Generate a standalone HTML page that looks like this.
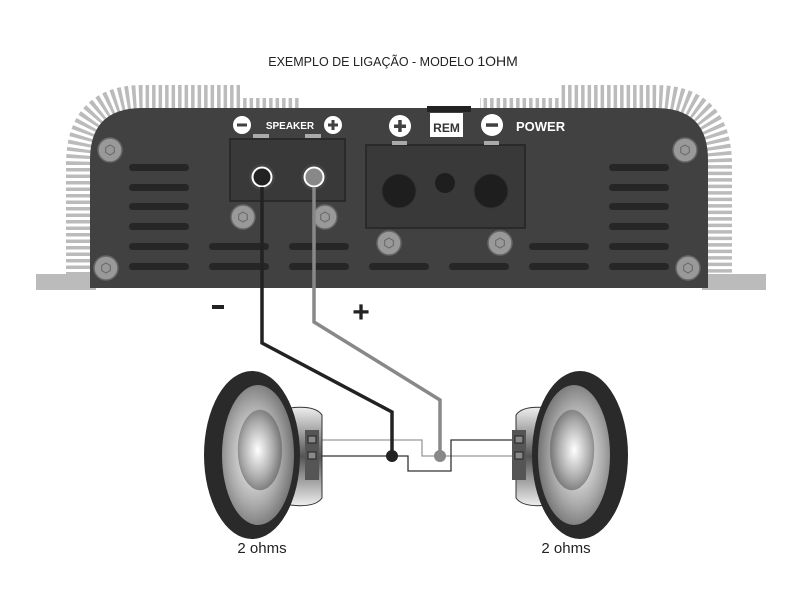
<!DOCTYPE html>
<html><head><meta charset="utf-8"><style>
body{margin:0;background:#fff;width:800px;height:600px;overflow:hidden}
text{font-family:"Liberation Sans",sans-serif}
</style></head><body>
<svg width="800" height="600" viewBox="0 0 800 600" xmlns="http://www.w3.org/2000/svg">
<defs>
<radialGradient id="cone" cx="0.45" cy="0.5" r="0.6"><stop offset="0" stop-color="#fff"/><stop offset="0.6" stop-color="#aaa"/><stop offset="1" stop-color="#666"/></radialGradient>
<radialGradient id="cone2" cx="0.55" cy="0.5" r="0.6"><stop offset="0" stop-color="#fff"/><stop offset="0.6" stop-color="#aaa"/><stop offset="1" stop-color="#666"/></radialGradient>
<linearGradient id="bask" x1="0" y1="0" x2="0" y2="1"><stop offset="0" stop-color="#eee"/><stop offset="0.5" stop-color="#555"/><stop offset="1" stop-color="#eee"/></linearGradient>
<g id="screw"><circle r="12" fill="#999" stroke="#666" stroke-width="1.5"/><polygon points="0,-5 4.3,-2.5 4.3,2.5 0,5 -4.3,2.5 -4.3,-2.5" fill="none" stroke="#666" stroke-width="1"/></g>
</defs>
<text x="393" y="66" font-size="12.5" text-anchor="middle" fill="#222">EXEMPLO DE LIGAÇÃO - MODELO <tspan font-size="14">1OHM</tspan></text>
<!-- fins -->
<path d="M78,282 V165 Q78,97 143,97 H655 Q720,97 720,165 V282" fill="none" stroke="#bbb" stroke-width="24" stroke-dasharray="3.5 3"/>
<rect x="36" y="274" width="60" height="16" fill="#bbb"/>
<rect x="702" y="274" width="64" height="16" fill="#bbb"/>
<rect x="300" y="80" width="180" height="28" fill="#fff"/>
<rect x="240" y="80" width="60" height="18" fill="#fff"/>
<rect x="480" y="80" width="80" height="18" fill="#fff"/>
<path d="M90,288 V160 Q90,108 142,108 H656 Q708,108 708,160 V288 Z" fill="#414141"/>
<rect x="427" y="106" width="44" height="6" fill="#222"/>
<!-- vents -->
<g fill="#262626">
<rect x="129" y="164" width="60" height="7" rx="3.5"/><rect x="129" y="184" width="60" height="7" rx="3.5"/><rect x="129" y="203" width="60" height="7" rx="3.5"/><rect x="129" y="223" width="60" height="7" rx="3.5"/><rect x="129" y="243" width="60" height="7" rx="3.5"/><rect x="129" y="263" width="60" height="7" rx="3.5"/>
<rect x="609" y="164" width="60" height="7" rx="3.5"/><rect x="609" y="184" width="60" height="7" rx="3.5"/><rect x="609" y="203" width="60" height="7" rx="3.5"/><rect x="609" y="223" width="60" height="7" rx="3.5"/><rect x="609" y="243" width="60" height="7" rx="3.5"/><rect x="609" y="263" width="60" height="7" rx="3.5"/>
<rect x="209" y="243" width="60" height="7" rx="3.5"/><rect x="209" y="263" width="60" height="7" rx="3.5"/>
<rect x="289" y="243" width="60" height="7" rx="3.5"/><rect x="289" y="263" width="60" height="7" rx="3.5"/>
<rect x="369" y="263" width="60" height="7" rx="3.5"/><rect x="449" y="263" width="60" height="7" rx="3.5"/>
<rect x="529" y="243" width="60" height="7" rx="3.5"/><rect x="529" y="263" width="60" height="7" rx="3.5"/>
</g>
<!-- terminal boxes -->
<rect x="230" y="139" width="115" height="62" fill="#393939" stroke="#2a2a2a" stroke-width="2"/>
<rect x="366" y="145" width="159" height="83" fill="#393939" stroke="#2a2a2a" stroke-width="2"/>
<rect x="253" y="134" width="16" height="4" fill="#aaa"/><rect x="305" y="134" width="16" height="4" fill="#aaa"/>
<rect x="392" y="141" width="15" height="4" fill="#aaa"/><rect x="484" y="141" width="15" height="4" fill="#aaa"/>
<circle cx="262" cy="177" r="13" fill="#444"/><circle cx="314" cy="177" r="13" fill="#444"/>
<circle cx="262" cy="177" r="9.5" fill="#222" stroke="#fff" stroke-width="2"/>
<circle cx="314" cy="177" r="9.5" fill="#888" stroke="#fff" stroke-width="2"/>
<circle cx="399" cy="191" r="17" fill="#1e1e1e" stroke="#333"/>
<circle cx="445" cy="183" r="10" fill="#1e1e1e"/>
<circle cx="491" cy="191" r="17" fill="#1e1e1e" stroke="#333"/>
<!-- screws -->
<use href="#screw" x="110" y="150"/><use href="#screw" x="106" y="268"/>
<use href="#screw" x="243" y="217"/><use href="#screw" x="325" y="217"/>
<use href="#screw" x="389" y="243"/><use href="#screw" x="500" y="243"/>
<use href="#screw" x="685" y="150"/><use href="#screw" x="688" y="268"/>
<!-- labels -->
<circle cx="242" cy="125" r="9" fill="#fff"/><rect x="237" y="123.5" width="10" height="3" fill="#414141"/>
<text x="290" y="129" font-size="10" font-weight="bold" fill="#fff" text-anchor="middle">SPEAKER</text>
<circle cx="333" cy="125" r="9" fill="#fff"/><rect x="328" y="123.5" width="10" height="3" fill="#414141"/><rect x="331.5" y="120" width="3" height="10" fill="#414141"/>
<circle cx="400" cy="126" r="11" fill="#fff"/><rect x="394" y="124.5" width="12" height="3.5" fill="#414141"/><rect x="398.2" y="120" width="3.5" height="12" fill="#414141"/>
<rect x="430" y="113" width="33" height="24" fill="#fff"/>
<text x="446.5" y="132" font-size="12" font-weight="bold" fill="#333" text-anchor="middle">REM</text>
<circle cx="492" cy="125" r="11" fill="#fff"/><rect x="486" y="123.3" width="12" height="3.5" fill="#414141"/>
<text x="516" y="131" font-size="13" font-weight="bold" fill="#fff">POWER</text>
<rect x="212" y="305" width="12" height="4" fill="#222"/>
<text x="361" y="322" font-size="30" font-weight="bold" fill="#222" text-anchor="middle">+</text>
<!-- thin speaker wires -->
<g fill="none" stroke-width="1.3">
<path d="M313,440 H422 V456 H518" stroke="#999"/>
<path d="M313,456 H408 V471 H451 V440 H518" stroke="#333"/>
</g>
<!-- main wires -->
<path d="M262,187 V343 L392,412 V456" fill="none" stroke="#222" stroke-width="3.5"/>
<path d="M314,187 V322 L440,400 V456" fill="none" stroke="#888" stroke-width="3.5"/>
<circle cx="392" cy="456" r="6" fill="#222"/>
<circle cx="440" cy="456" r="6" fill="#888"/>
<!-- left speaker -->
<path d="M290,408 Q315,405 322,415 V498 Q315,508 290,505 Z" fill="url(#bask)" stroke="#333"/>
<rect x="305" y="430" width="14" height="50" fill="#555"/>
<rect x="308" y="436" width="8" height="7" fill="#888" stroke="#222"/><rect x="308" y="452" width="8" height="7" fill="#888" stroke="#222"/>
<ellipse cx="252" cy="455" rx="48" ry="84" fill="#2a2a2a"/>
<ellipse cx="258" cy="455" rx="36" ry="70" fill="url(#cone)"/>
<ellipse cx="260" cy="450" rx="22" ry="40" fill="url(#cone)" stroke="#888" stroke-width="0.5"/>
<!-- right speaker -->
<path d="M548,408 Q523,405 516,415 V498 Q523,508 548,505 Z" fill="url(#bask)" stroke="#333"/>
<rect x="512" y="430" width="14" height="50" fill="#555"/>
<rect x="515" y="436" width="8" height="7" fill="#888" stroke="#222"/><rect x="515" y="452" width="8" height="7" fill="#888" stroke="#222"/>
<ellipse cx="580" cy="455" rx="48" ry="84" fill="#2a2a2a"/>
<ellipse cx="574" cy="455" rx="36" ry="70" fill="url(#cone2)"/>
<ellipse cx="572" cy="450" rx="22" ry="40" fill="url(#cone2)" stroke="#888" stroke-width="0.5"/>
<text x="262" y="553" font-size="15" fill="#222" text-anchor="middle">2 ohms</text>
<text x="566" y="553" font-size="15" fill="#222" text-anchor="middle">2 ohms</text>
</svg>
</body></html>
